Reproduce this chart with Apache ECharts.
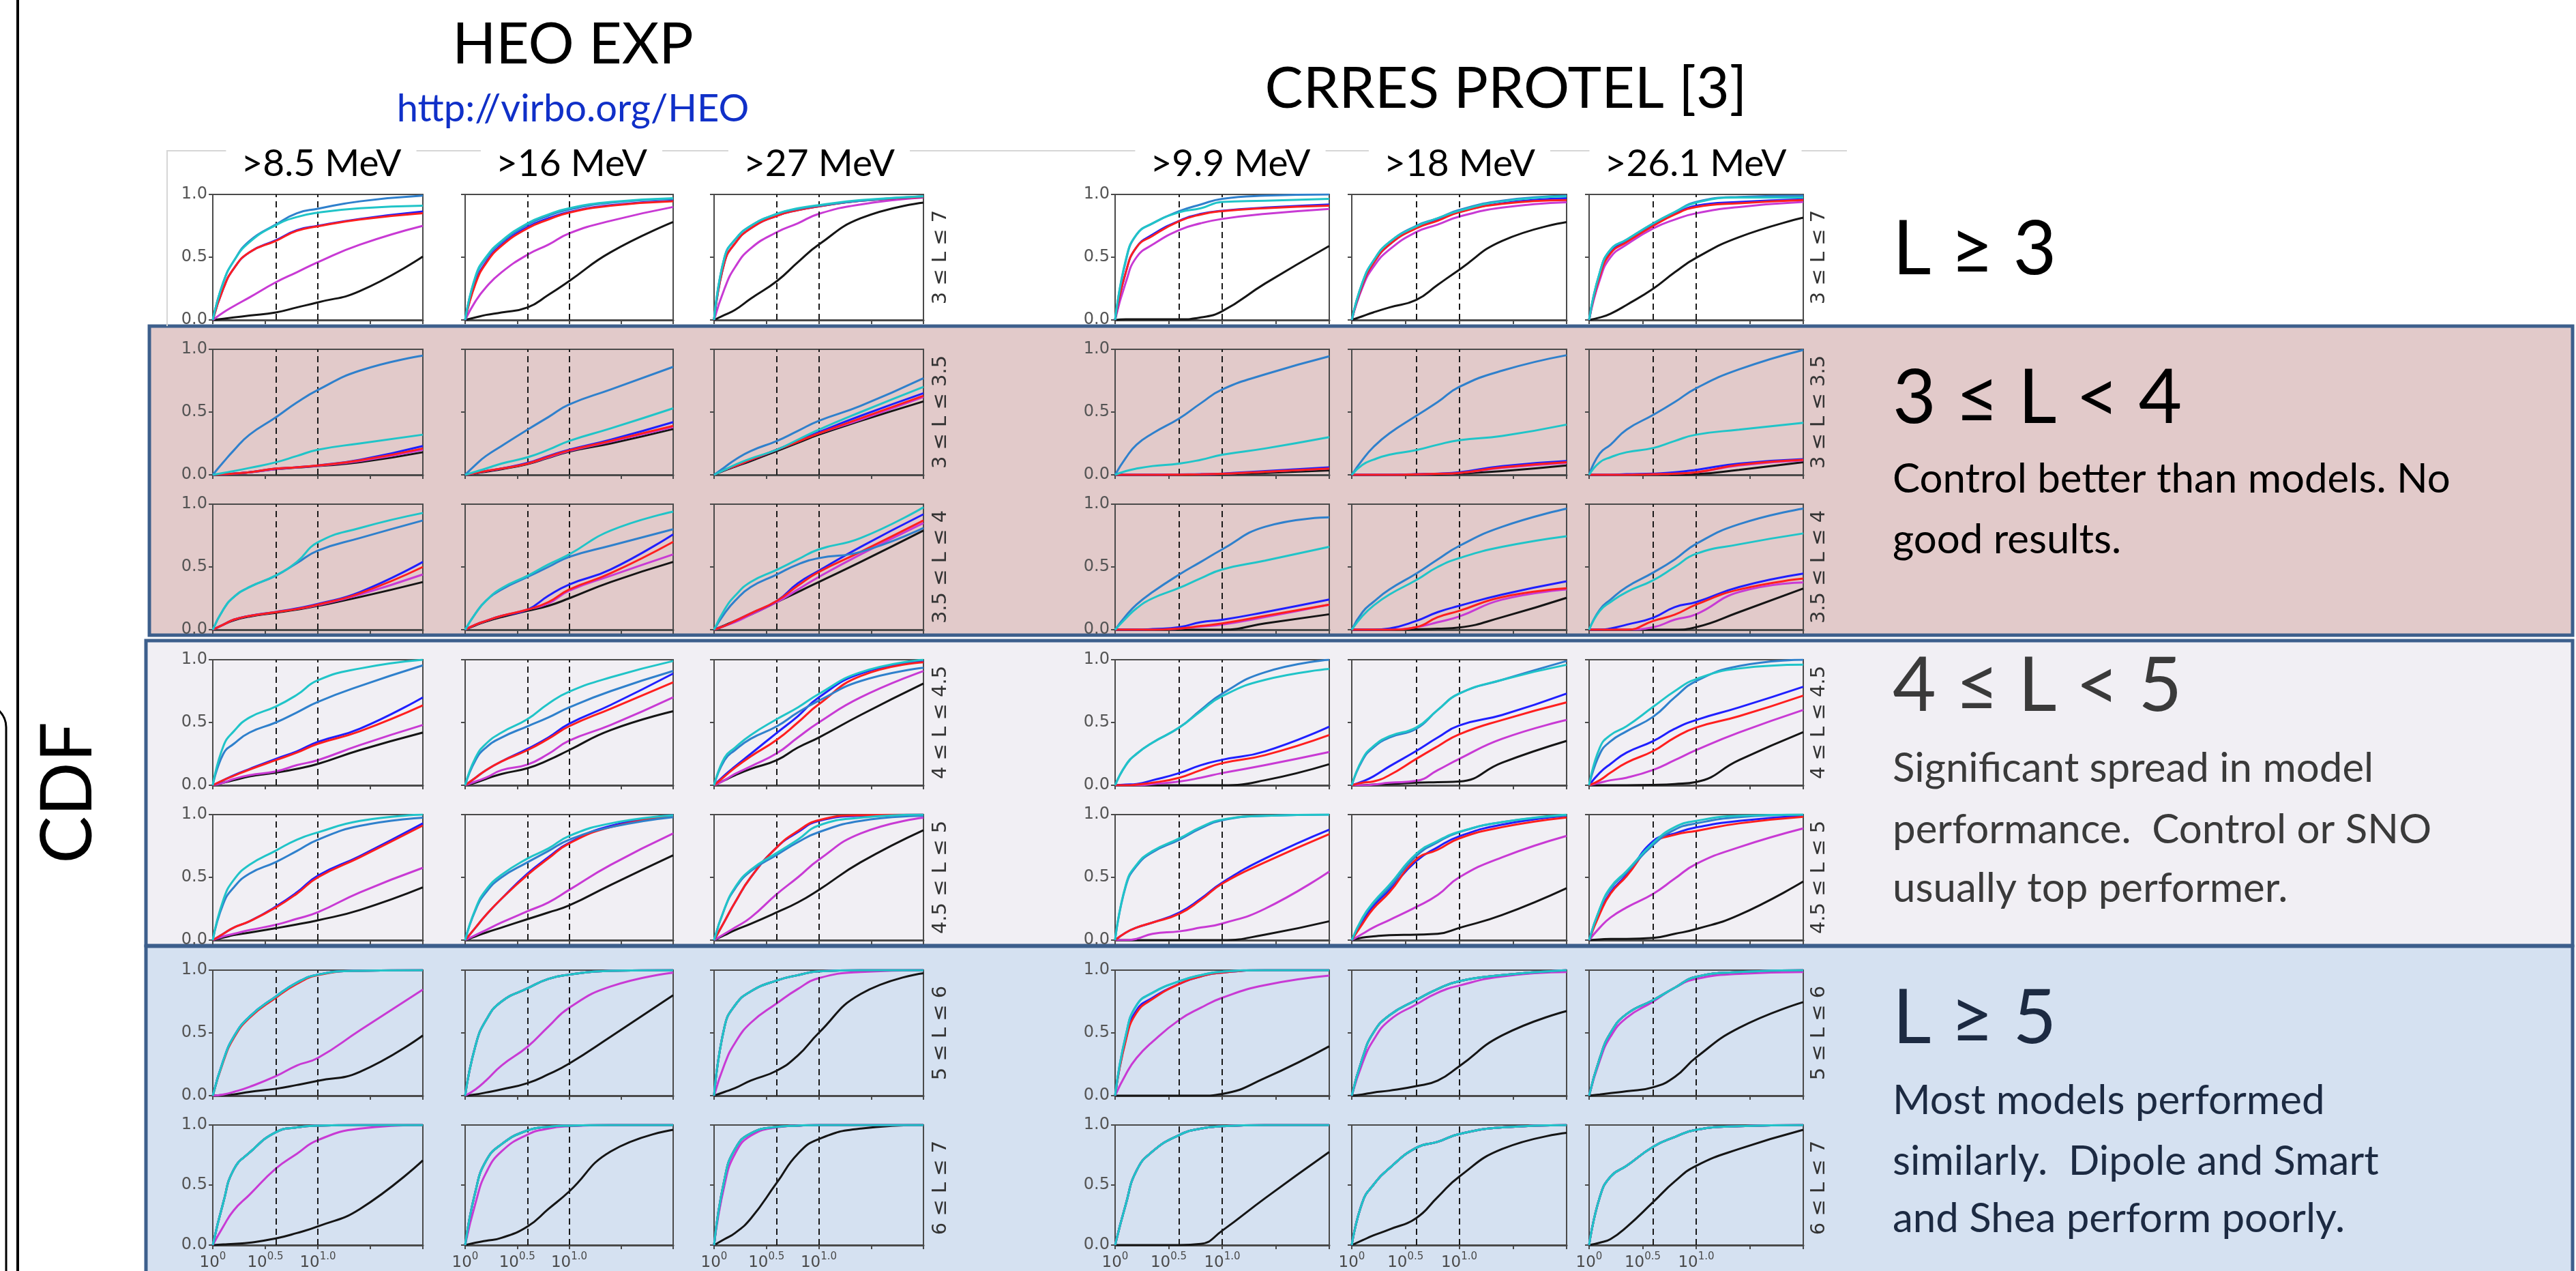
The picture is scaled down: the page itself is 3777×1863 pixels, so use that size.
<!DOCTYPE html>
<html><head><meta charset="utf-8">
<script src="https://cdn.jsdelivr.net/npm/echarts@6/dist/echarts.min.js"></script>
<style>html,body{margin:0;padding:0;background:#fff}#c{width:3777px;height:1863px}</style>
</head><body><div id="c"></div>
<script>
// ---------------- DATA ----------------
const X_LOG = [0, 0.1, 0.2, 0.35, 0.6, 0.8, 1.0, 1.4, 2.0];   // log10 of x
const X_TICK_LABELS = {0: '0', 0.5: '0.5', 1: '1.0'};
const DASHED_X = [0.602, 1.0];
const GROUP_TITLES = ['HEO EXP', 'CRRES PROTEL [3]'];
const GROUP_LINK = 'http://virbo.org/HEO';
const COLUMN_TITLES = ['>8.5 MeV', '>16 MeV', '>27 MeV', '>9.9 MeV', '>18 MeV', '>26.1 MeV'];
const ROW_LABELS = ['3 ≤ L ≤ 7', '3 ≤ L ≤ 3.5', '3.5 ≤ L ≤ 4', '4 ≤ L ≤ 4.5', '4.5 ≤ L ≤ 5', '5 ≤ L ≤ 6', '6 ≤ L ≤ 7'];
const BIG_LABELS = ['L ≥ 3', '3 ≤ L < 4', '4 ≤ L < 5', 'L ≥ 5'];
const NOTES = [
  [],
  ['Control better than models. No', 'good results.'],
  ['Significant spread in model', 'performance.  Control or SNO', 'usually top performer.'],
  ['Most models performed', 'similarly.  Dipole and Smart', 'and Shea perform poorly.']
];

// each array: 42 panels (7 rows x 6 columns, row-major), values at X_LOG
const STEEL = [
[0,.30,.47,.63,.76,.85,.886,.945,.99],[0,.34,.49,.62,.76,.83,.88,.935,.965],[0,.50,.64,.75,.845,.885,.91,.95,.985],
[0,.47,.68,.77,.867,.92,.965,.99,1.0],[0,.30,.47,.62,.75,.81,.876,.95,.99],[0,.38,.56,.64,.77,.86,.94,.98,.99],
[0,.10,.195,.32,.458,.576,.676,.83,.95],[0,.08,.15,.23,.36,.46,.56,.68,.86],[0,.06,.12,.19,.27,.35,.43,.55,.77],
[0,.135,.24,.33,.45,.57,.68,.80,.944],[0,.12,.22,.33,.47,.58,.70,.83,.953],[0,.17,.24,.36,.478,.58,.69,.84,.995],
[0,.16,.26,.34,.43,.53,.63,.73,.87],[0,.13,.23,.32,.42,.50,.58,.67,.80],[0,.13,.23,.34,.44,.52,.57,.62,.81],
[0,.11,.20,.30,.44,.54,.64,.82,.895],[0,.14,.22,.32,.447,.56,.667,.82,.965],[0,.16,.24,.34,.456,.56,.684,.84,.965],
[0,.25,.33,.42,.50,.58,.664,.79,.955],[0,.20,.30,.38,.47,.54,.62,.75,.91],[0,.20,.28,.37,.47,.58,.673,.83,.936],
[0,.16,.25,.34,.46,.60,.73,.90,1.0],[0,.20,.30,.38,.45,.60,.73,.84,.99],[0,.25,.35,.43,.547,.70,.83,.95,1.0],
[0,.29,.42,.53,.622,.71,.80,.91,.976],[0,.24,.38,.50,.62,.71,.80,.90,.98],[0,.25,.41,.55,.68,.78,.86,.95,.99],
[0,.43,.59,.70,.80,.89,.955,.99,1.0],[0,.17,.29,.42,.67,.78,.86,.94,.995],[0,.25,.41,.54,.76,.88,.93,.98,1.0],
[0,.28,.47,.63,.79,.90,.964,.995,1.0],[0,.40,.60,.75,.855,.93,.964,.995,1.0],[0,.55,.72,.83,.918,.96,.99,1.0,1.0],
[0,.48,.72,.82,.912,.96,.988,1.0,1.0],[0,.30,.50,.64,.762,.85,.912,.96,1.0],[0,.30,.50,.65,.762,.86,.947,.985,1.0],
[0,.355,.63,.77,.94,.98,.995,1.0,1.0],[0,.45,.70,.84,.955,.985,.995,1.0,1.0],[0,.55,.80,.93,.984,.995,1.0,1.0,1.0],
[0,.34,.62,.78,.917,.97,.99,1.0,1.0],[0,.36,.50,.64,.81,.86,.925,.98,1.0],[0,.40,.57,.66,.82,.90,.96,.99,1.0]
];
const CYAN = [
[0,.30,.47,.62,.755,.82,.855,.89,.91],[0,.35,.50,.63,.77,.84,.89,.94,.97],[0,.50,.64,.75,.846,.89,.915,.955,.985],
[0,.48,.68,.77,.858,.89,.94,.95,.965],[0,.30,.47,.62,.745,.81,.87,.945,.985],[0,.38,.56,.64,.77,.86,.935,.975,.975],
[0,.015,.03,.055,.10,.15,.20,.25,.32],[0,.025,.05,.09,.14,.20,.27,.37,.53],[0,.04,.08,.13,.20,.28,.36,.50,.70],
[0,.03,.05,.07,.09,.12,.16,.21,.30],[0,.08,.12,.16,.197,.24,.276,.31,.40],[0,.10,.14,.18,.214,.27,.32,.36,.415],
[0,.16,.26,.34,.433,.54,.696,.81,.93],[0,.13,.23,.33,.43,.52,.60,.79,.94],[0,.16,.27,.38,.478,.56,.64,.73,.975],
[0,.09,.17,.25,.333,.41,.48,.55,.66],[0,.11,.19,.28,.395,.50,.57,.66,.745],[0,.15,.22,.30,.395,.50,.605,.68,.767],
[0,.31,.43,.54,.627,.72,.836,.93,1.0],[0,.22,.33,.42,.527,.65,.745,.86,.99],[0,.22,.30,.40,.527,.62,.727,.90,1.0],
[0,.16,.25,.34,.46,.59,.71,.84,.926],[0,.21,.31,.39,.46,.60,.73,.84,.96],[0,.30,.40,.47,.626,.75,.846,.93,.96],
[0,.32,.48,.60,.713,.80,.858,.95,1.0],[0,.25,.40,.52,.65,.73,.83,.93,.995],[0,.25,.42,.56,.695,.80,.913,.975,1.0],
[0,.44,.60,.71,.81,.90,.96,.99,1.0],[0,.18,.30,.44,.687,.79,.863,.94,1.0],[0,.25,.42,.55,.775,.90,.95,.99,1.0],
[0,.28,.47,.63,.79,.90,.964,.995,1.0],[0,.40,.60,.75,.855,.93,.964,.995,1.0],[0,.55,.72,.83,.918,.96,.99,1.0,1.0],
[0,.48,.72,.82,.912,.96,.988,1.0,1.0],[0,.30,.50,.64,.762,.85,.912,.96,1.0],[0,.30,.50,.65,.762,.86,.947,.985,1.0],
[0,.355,.63,.77,.94,.98,.995,1.0,1.0],[0,.45,.70,.84,.955,.985,.995,1.0,1.0],[0,.55,.80,.93,.984,.995,1.0,1.0,1.0],
[0,.34,.62,.78,.917,.97,.99,1.0,1.0],[0,.36,.50,.64,.81,.86,.925,.98,1.0],[0,.40,.57,.66,.82,.90,.96,.99,1.0]
];
const BLUE = [
[0,.25,.41,.54,.635,.715,.75,.805,.864],[0,.30,.46,.60,.74,.81,.86,.915,.95],[0,.46,.61,.73,.83,.875,.905,.95,.98],
[0,.38,.58,.68,.79,.845,.87,.895,.92],[0,.28,.45,.60,.735,.80,.86,.93,.97],[0,.36,.54,.63,.76,.845,.91,.94,.96],
[0,.005,.01,.02,.05,.06,.075,.12,.23],[0,.015,.03,.05,.095,.15,.20,.28,.42],[0,.04,.07,.12,.20,.27,.34,.47,.65],
[0,0,0,0,.003,.005,.01,.03,.06],[0,0,0,0,.005,.01,.02,.07,.11],[0,0,0,.005,.01,.02,.04,.09,.125],
[0,.04,.08,.11,.142,.17,.205,.30,.54],[0,.04,.07,.11,.16,.27,.36,.48,.76],[0,.03,.07,.13,.23,.37,.47,.66,.92],
[0,0,0,.005,.02,.06,.079,.14,.24],[0,0,0,.01,.07,.14,.19,.28,.386],[0,0,.01,.04,.096,.18,.22,.34,.447],
[0,.04,.08,.13,.21,.27,.345,.45,.70],[0,.06,.12,.19,.29,.38,.49,.64,.89],[0,.08,.15,.25,.418,.55,.70,.89,.99],
[0,.005,.01,.04,.097,.16,.203,.27,.467],[0,.03,.07,.15,.273,.38,.476,.56,.73],[0,.10,.17,.26,.353,.45,.52,.62,.785],
[0,.05,.10,.15,.267,.38,.513,.67,.93],[0,.10,.20,.33,.53,.66,.776,.91,.995],[0,.15,.30,.50,.74,.86,.95,.99,1.0],
[0,.06,.10,.14,.22,.33,.458,.65,.88],[0,.15,.27,.40,.63,.74,.827,.92,.99],[0,.22,.38,.52,.79,.85,.898,.95,.99],
[0,.28,.47,.63,.79,.90,.964,.995,1.0],[0,.40,.60,.75,.855,.93,.964,.995,1.0],[0,.55,.72,.83,.918,.96,.99,1.0,1.0],
[0,.45,.68,.78,.89,.95,.98,1.0,1.0],[0,.30,.50,.64,.762,.85,.912,.96,1.0],[0,.30,.50,.65,.762,.86,.947,.985,1.0],
[0,.355,.63,.77,.94,.98,.995,1.0,1.0],[0,.45,.70,.84,.955,.985,.995,1.0,1.0],[0,.55,.80,.93,.984,.995,1.0,1.0,1.0],
[0,.34,.62,.78,.917,.97,.99,1.0,1.0],[0,.36,.50,.64,.81,.86,.925,.98,1.0],[0,.40,.57,.66,.82,.90,.96,.99,1.0]
];
const RED = [
[0,.25,.41,.54,.63,.71,.746,.80,.85],[0,.29,.45,.59,.73,.80,.855,.91,.945],[0,.46,.61,.73,.83,.875,.905,.95,.98],
[0,.38,.58,.67,.787,.84,.867,.89,.91],[0,.28,.45,.60,.73,.79,.858,.925,.955],[0,.35,.53,.62,.75,.84,.90,.93,.955],
[0,.005,.01,.02,.05,.06,.075,.115,.21],[0,.015,.03,.05,.09,.145,.195,.27,.39],[0,.04,.07,.12,.20,.265,.33,.45,.63],
[0,0,0,0,.002,.004,.008,.025,.05],[0,0,0,0,.004,.008,.015,.06,.10],[0,0,0,0,.005,.01,.02,.08,.12],
[0,.04,.08,.11,.14,.165,.20,.29,.50],[0,.04,.07,.11,.16,.22,.32,.45,.70],[0,.03,.07,.13,.23,.35,.46,.62,.87],
[0,0,0,0,.01,.03,.05,.11,.20],[0,0,0,0,.02,.10,.15,.26,.33],[0,0,0,0,.07,.12,.20,.32,.407],
[0,.04,.075,.125,.20,.26,.33,.43,.636],[0,.06,.12,.19,.28,.37,.47,.61,.82],[0,.07,.14,.23,.363,.50,.645,.87,.98],
[0,0,.005,.02,.06,.12,.176,.24,.40],[0,.02,.03,.08,.21,.31,.406,.52,.66],[0,.04,.10,.18,.273,.38,.46,.55,.714],
[0,.05,.10,.15,.26,.37,.50,.66,.913],[0,.10,.20,.33,.52,.65,.77,.90,.99],[0,.15,.30,.50,.74,.87,.955,.995,1.0],
[0,.06,.10,.14,.21,.32,.45,.62,.845],[0,.13,.25,.38,.643,.72,.81,.90,.977],[0,.21,.37,.51,.77,.84,.87,.93,.982],
[0,.27,.46,.62,.78,.89,.96,.995,1.0],[0,.40,.60,.75,.855,.93,.964,.995,1.0],[0,.55,.72,.83,.918,.96,.99,1.0,1.0],
[0,.44,.66,.77,.89,.95,.98,1.0,1.0],[0,.30,.50,.64,.762,.85,.912,.96,1.0],[0,.30,.50,.65,.762,.86,.947,.985,1.0],
[0,.355,.63,.77,.94,.98,.995,1.0,1.0],[0,.45,.70,.84,.955,.985,.995,1.0,1.0],[0,.55,.80,.93,.984,.995,1.0,1.0,1.0],
[0,.34,.62,.78,.917,.97,.99,1.0,1.0],[0,.36,.50,.64,.81,.86,.925,.98,1.0],[0,.40,.57,.66,.82,.90,.96,.99,1.0]
];
const MAGENTA = [
[0,.06,.11,.18,.30,.38,.46,.60,.75],[0,.15,.26,.38,.52,.60,.69,.79,.90],[0,.25,.42,.57,.70,.77,.845,.92,.975],
[0,.30,.50,.60,.717,.77,.805,.845,.885],[0,.26,.42,.56,.70,.76,.823,.895,.938],[0,.32,.50,.60,.73,.80,.85,.90,.94],
[0,.005,.01,.02,.045,.06,.072,.11,.20],[0,.015,.03,.05,.09,.14,.19,.265,.38],[0,.04,.07,.12,.20,.265,.33,.44,.62],
[0,0,0,0,.002,.004,.008,.025,.05],[0,0,0,0,.004,.008,.015,.055,.095],[0,0,0,0,.005,.01,.02,.075,.115],
[0,.04,.08,.11,.14,.165,.195,.28,.44],[0,.04,.07,.11,.16,.21,.31,.43,.60],[0,.03,.06,.12,.22,.32,.42,.60,.85],
[0,0,0,0,.01,.025,.04,.10,.20],[0,0,0,0,.02,.06,.105,.24,.32],[0,0,0,0,.02,.08,.123,.30,.377],
[0,.02,.05,.08,.11,.16,.20,.32,.48],[0,.03,.06,.12,.165,.25,.355,.48,.70],[0,.04,.09,.15,.255,.38,.50,.70,.91],
[0,0,0,.01,.03,.06,.097,.16,.265],[0,0,.005,.02,.035,.12,.21,.37,.52],[0,.02,.04,.06,.123,.20,.28,.42,.60],
[0,.03,.05,.08,.122,.17,.222,.38,.576],[0,.04,.08,.14,.23,.30,.40,.60,.85],[0,.05,.10,.18,.367,.50,.64,.85,.976],
[0,0,.01,.05,.07,.10,.132,.25,.546],[0,.05,.10,.16,.264,.36,.50,.66,.83],[0,.10,.18,.26,.37,.49,.607,.74,.89],
[0,.01,.03,.07,.155,.24,.30,.52,.845],[0,.05,.12,.24,.39,.55,.70,.87,.98],[0,.25,.42,.58,.736,.85,.936,.985,1.0],
[0,.17,.30,.43,.604,.70,.78,.88,.956],[0,.26,.44,.60,.727,.82,.877,.95,.985],[0,.28,.47,.62,.75,.86,.93,.97,.985],
[0,.155,.29,.42,.637,.76,.874,.97,1.0],[0,.35,.60,.78,.92,.97,.99,1.0,1.0],[0,.50,.76,.91,.98,.995,1.0,1.0,1.0],
[0,.34,.62,.78,.917,.97,.99,1.0,1.0],[0,.36,.50,.64,.81,.86,.925,.98,1.0],[0,.40,.57,.66,.82,.90,.96,.99,1.0]
];
const BLACK = [
[0,.01,.02,.035,.06,.10,.14,.23,.505],[0,.02,.04,.06,.10,.20,.31,.54,.78],[0,.04,.08,.17,.31,.46,.60,.81,.935],
[0,.005,.005,.005,.005,.02,.07,.29,.59],[0,.03,.06,.10,.16,.28,.40,.63,.78],[0,.02,.05,.12,.25,.38,.495,.66,.815],
[0,.005,.01,.02,.045,.058,.07,.10,.18],[0,.012,.025,.045,.085,.135,.185,.25,.365],[0,.035,.065,.11,.19,.255,.32,.43,.585],
[0,0,0,0,0,.002,.005,.015,.035],[0,0,0,0,.002,.004,.01,.03,.075],[0,0,0,0,0,0,.005,.04,.10],
[0,.04,.075,.105,.135,.16,.19,.26,.38],[0,.035,.065,.10,.15,.19,.25,.38,.54],[0,.035,.07,.12,.22,.30,.38,.54,.79],
[0,0,0,0,0,0,0,.05,.123],[0,0,0,0,.003,.008,.018,.10,.254],[0,0,0,0,0,0,.02,.14,.328],
[0,.02,.04,.07,.10,.13,.17,.28,.42],[0,.02,.05,.09,.136,.20,.28,.44,.59],[0,.04,.08,.13,.20,.30,.38,.56,.81],
[0,0,0,0,0,0,0,.04,.168],[0,0,.005,.01,.02,.025,.03,.18,.353],[0,0,0,0,.003,.01,.026,.20,.423],
[0,.02,.04,.06,.095,.125,.158,.24,.42],[0,.03,.06,.10,.167,.22,.276,.44,.676],[0,.04,.08,.13,.222,.30,.40,.62,.876],
[0,0,0,0,0,0,0,.044,.15],[0,.02,.03,.04,.044,.05,.097,.20,.414],[0,.005,.01,.01,.018,.05,.088,.20,.467],
[0,.005,.01,.03,.055,.085,.118,.19,.48],[0,.01,.025,.05,.10,.17,.255,.47,.80],[0,.03,.06,.12,.20,.32,.50,.81,.976],
[0,0,0,0,0,0,.014,.14,.393],[0,.01,.025,.04,.076,.12,.234,.48,.674],[0,.01,.02,.035,.067,.15,.305,.54,.745],
[0,.005,.01,.02,.055,.10,.155,.30,.705],[0,.02,.035,.06,.155,.30,.446,.78,.96],[0,.05,.10,.22,.52,.76,.883,.97,1.0],
[0,0,0,0,0,.01,.12,.39,.775],[0,.04,.08,.13,.225,.40,.57,.80,.934],[0,.02,.05,.15,.36,.53,.66,.80,.96]
];

// ---------------- LAYOUT / STYLE ----------------
const COL_LEFT = [312, 682, 1047, 1635, 1982, 2330];
const COL_W = [308, 305, 307, 314, 315, 314];
const ROW_TOP = [285, 512, 739, 967, 1194, 1422, 1649];
const ROW_H = 184;
const SERIES_DEFS = [
  {name: 'Dipole', data: BLACK, color: '#151515'},
  {name: 'Smart and Shea', data: MAGENTA, color: '#c83ad4'},
  {name: 'blue model', data: BLUE, color: '#1f1fff'},
  {name: 'red model', data: RED, color: '#ff1f1f'},
  {name: 'Control', data: STEEL, color: '#2f80cc'},
  {name: 'SNO', data: CYAN, color: '#20c4c8'}
];
const AX = '#4a4a4a';
const AXFONT = '"DejaVu Sans", sans-serif';
const TXTFONT = 'Lato, "Noto Sans", "DejaVu Sans", sans-serif';

const grids = [], xAxes = [], yAxes = [], series = [];
for (let r = 0; r < 7; r++) {
  for (let c = 0; c < 6; c++) {
    const i = r * 6 + c;
    grids.push({left: COL_LEFT[c], top: ROW_TOP[r], width: COL_W[c], height: ROW_H,
      show: true, borderColor: AX, borderWidth: 2, backgroundColor: 'transparent'});
    xAxes.push({gridIndex: i, type: 'value', min: 0, max: 2, interval: 0.5,
      axisLine: {show: true, onZero: false, lineStyle: {color: AX, width: 3}},
      axisTick: {show: true, length: 6, lineStyle: {color: AX, width: 2}},
      splitLine: {show: false},
      axisLabel: {show: r === 6, margin: 10, color: '#4a4a4a', fontFamily: AXFONT,
        formatter: v => (X_TICK_LABELS[v] !== undefined ? '{b|10}{s|' + X_TICK_LABELS[v] + '}' : ''),
        rich: {b: {fontSize: 23, fontFamily: AXFONT, color: '#4a4a4a', lineHeight: 28, verticalAlign: 'bottom'},
               s: {fontSize: 15, fontFamily: AXFONT, color: '#4a4a4a', lineHeight: 16, verticalAlign: 'top'}}}
    });
    yAxes.push({gridIndex: i, type: 'value', min: 0, max: 1, interval: 0.5,
      axisLine: {show: true, onZero: false, lineStyle: {color: AX, width: 2}},
      axisTick: {show: true, length: 6, lineStyle: {color: AX, width: 2}},
      splitLine: {show: false},
      axisLabel: {show: c === 0 || c === 3, margin: 8, fontSize: 24, color: '#555', fontFamily: AXFONT,
        formatter: v => v.toFixed(1)}
    });
    SERIES_DEFS.forEach((d, k) => {
      const s = {
        name: d.name, type: 'line', xAxisIndex: i, yAxisIndex: i,
        data: X_LOG.map((x, j) => [x, d.data[i][j]]),
        smooth: 0.5, showSymbol: false, symbol: 'none',
        lineStyle: {color: d.color, width: 3}, itemStyle: {color: d.color},
        silent: true, animation: false, z: 3 + k
      };
      if (k === 0) {
        s.markLine = {silent: true, symbol: ['none', 'none'], animation: false,
          label: {show: false}, lineStyle: {color: '#1a1a1a', type: [9, 6], width: 2},
          data: DASHED_X.map(v => ({xAxis: v}))};
      }
      series.push(s);
    });
  }
}

// ---------------- GRAPHIC (bands, titles, notes) ----------------
const g = [];
g.push({type: 'rect', z: -10, shape: {x: 219, y: 478, width: 3553, height: 453},
  style: {fill: '#e2caca', stroke: '#3d5f8c', lineWidth: 5}});
g.push({type: 'rect', z: -10, shape: {x: 214, y: 939, width: 3558, height: 447},
  style: {fill: '#f1eff4', stroke: '#3d5f8c', lineWidth: 5}});
g.push({type: 'rect', z: -10, shape: {x: 214, y: 1387, width: 3558, height: 500},
  style: {fill: '#d5e1f1', stroke: '#3d5f8c', lineWidth: 5}});
// figure frame lines
g.push({type: 'polyline', z: -5, shape: {points: [[245, 478], [245, 221], [2708, 221]]},
  style: {stroke: '#d6d6d6', lineWidth: 2, fill: null}});
// left vertical line and bracket
g.push({type: 'line', z: 5, shape: {x1: 26, y1: 0, x2: 26, y2: 1863}, style: {stroke: '#000', lineWidth: 4}});
g.push({type: 'rect', z: 5, shape: {x: -300, y: 1032, width: 309, height: 1200, r: 34},
  style: {fill: null, stroke: '#000', lineWidth: 3}});
// CDF
g.push({type: 'text', z: 10, x: 100, y: 1162, rotation: Math.PI / 2,
  style: {text: 'CDF', fontSize: 104, fontFamily: TXTFONT, fill: '#000', align: 'center', verticalAlign: 'middle'}});
// group titles
g.push({type: 'text', z: 10, x: 840, y: 66, style: {text: GROUP_TITLES[0], fontSize: 84, fontFamily: TXTFONT, fill: '#000', align: 'center', verticalAlign: 'middle'}});
g.push({type: 'text', z: 10, x: 840, y: 160, style: {text: GROUP_LINK, fontSize: 56, fontFamily: TXTFONT, fill: '#1030c8', align: 'center', verticalAlign: 'middle'}});
g.push({type: 'text', z: 10, x: 2208, y: 131, style: {text: GROUP_TITLES[1], fontSize: 84, fontFamily: TXTFONT, fill: '#000', align: 'center', verticalAlign: 'middle'}});
// column titles
const HEAD_X = [471, 838, 1201, 1804, 2140, 2486];
COLUMN_TITLES.forEach((t, c) => {
  g.push({type: 'text', z: 10, x: HEAD_X[c], y: 240, style: {text: t, fontSize: 55, fontFamily: TXTFONT, fill: '#000',
    align: 'center', verticalAlign: 'middle', backgroundColor: '#fff', padding: [0, 22]}});
});
// row labels (rotated) next to columns 3 and 6
ROW_LABELS.forEach((t, r) => {
  [1379, 2667].forEach(x => {
    g.push({type: 'text', z: 10, x: x, y: ROW_TOP[r] + ROW_H / 2, rotation: Math.PI / 2,
      style: {text: t, fontSize: 29, fontFamily: AXFONT, fill: '#333', align: 'center', verticalAlign: 'middle'}});
  });
});
// right-hand notes
const BIG_Y = [367, 585, 1007, 1494];
const BIG_COL = ['#000', '#000', '#3a3a3a', '#1c2a42'];
const NOTE_Y = [[], [703, 792], [1127, 1217, 1303], [1614, 1703, 1787]];
BIG_LABELS.forEach((t, k) => {
  g.push({type: 'text', z: 10, x: 2775, y: BIG_Y[k], style: {text: t, fontSize: 110, fontFamily: TXTFONT, fill: BIG_COL[k], align: 'left', verticalAlign: 'middle'}});
  NOTES[k].forEach((line, j) => {
    g.push({type: 'text', z: 10, x: 2775, y: NOTE_Y[k][j], style: {text: line, fontSize: 60, fontFamily: TXTFONT, fill: BIG_COL[k], align: 'left', verticalAlign: 'middle'}});
  });
});

const chart = echarts.init(document.getElementById('c'), null, {renderer: 'canvas'});
chart.setOption({
  animation: false,
  backgroundColor: '#ffffff',
  grid: grids, xAxis: xAxes, yAxis: yAxes, series: series,
  graphic: {elements: g}
});
</script></body></html>
